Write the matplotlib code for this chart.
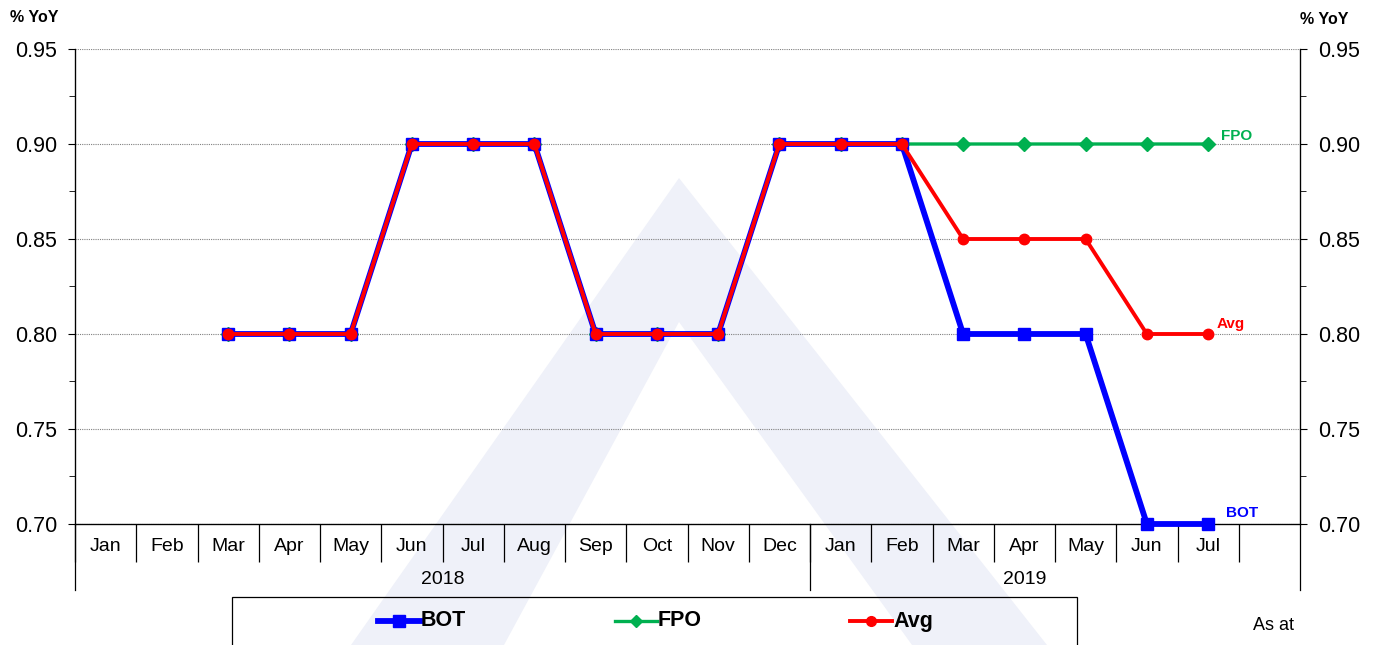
import matplotlib.pyplot as plt
import numpy as np
from matplotlib.lines import Line2D
from matplotlib.patches import Polygon, Rectangle

plt.rcParams['font.family'] = ['Liberation Sans', 'DejaVu Sans']

# data
months = ["Jan", "Feb", "Mar", "Apr", "May", "Jun", "Jul", "Aug", "Sep", "Oct", "Nov", "Dec",
          "Jan", "Feb", "Mar", "Apr", "May", "Jun", "Jul", ""]
years = ["2018", "2019"]
year_start = [0, 12]
year_end = [12, 19]
nan = np.nan
bot = [nan, nan, 0.80, 0.80, 0.80, 0.90, 0.90, 0.90, 0.80, 0.80, 0.80, 0.90,
       0.90, 0.90, 0.80, 0.80, 0.80, 0.70, 0.70, nan]
fpo = [nan, nan, 0.80, 0.80, 0.80, 0.90, 0.90, 0.90, 0.80, 0.80, 0.80, 0.90,
       0.90, 0.90, 0.90, 0.90, 0.90, 0.90, 0.90, nan]
avg = [nan, nan, 0.80, 0.80, 0.80, 0.90, 0.90, 0.90, 0.80, 0.80, 0.80, 0.90,
       0.90, 0.90, 0.85, 0.85, 0.85, 0.80, 0.80, nan]

W, H = 1380, 645
fig = plt.figure(figsize=(W / 100, H / 100), dpi=100)


def fx(px):
    return px / W


def fy(py):
    return 1 - py / H


# watermark chevron on a background axes
bg = fig.add_axes([0, 0, 1, 1], zorder=-1)
bg.axis("off")
bg.set_xlim(0, 1)
bg.set_ylim(0, 1)
wm = [(679, 178), (1047, 645), (912, 645), (679, 322), (504, 645), (351, 645)]
bg.add_patch(Polygon([(fx(a), fy(b)) for a, b in wm], closed=True,
                     facecolor="#eff1f9", edgecolor="none"))

ax = fig.add_axes([fx(75), fy(524), fx(1300) - fx(75), fy(49) - fy(524)])
ax.set_facecolor("none")
x = np.arange(len(months)) + 0.5

ax.plot(x, fpo, color="#00b050", lw=2.4, marker="D", ms=7, zorder=3, clip_on=False)
ax.plot(x, bot, color="#0000ff", lw=4.2, marker="s", ms=9, zorder=4, clip_on=False)
ax.plot(x, avg, color="#ff0000", lw=2.8, marker="o", ms=7.5, zorder=5, clip_on=False)

ax.set_xlim(0, len(months))
ax.set_ylim(0.70, 0.95)
ax.set_yticks(np.arange(0.70, 0.951, 0.05))
ax.set_yticks(np.arange(0.725, 0.95, 0.05), minor=True)
ax.yaxis.set_major_formatter(plt.FormatStrFormatter("%.2f"))
ax.grid(axis="y", color="#808080", lw=0.8, linestyle=(0, (1, 1)))
ax.set_axisbelow(True)

ax.set_xticks(x)
ax.set_xticklabels(months, fontsize=14)
ax.set_xticks(np.arange(0, len(months)), minor=True)
ax.tick_params(axis="x", which="major", length=0, pad=10)
ax.tick_params(axis="x", which="minor", length=27, width=0.9, direction="out")
ax.tick_params(axis="y", which="major", length=5, labelsize=15.5, pad=8)
ax.tick_params(axis="y", which="minor", length=4)

ax.spines["top"].set_visible(False)
for s in ["left", "right", "bottom"]:
    ax.spines[s].set_linewidth(0.9)

ax2 = ax.twinx()
ax2.set_ylim(ax.get_ylim())
ax2.set_yticks(ax.get_yticks())
ax2.set_yticks(np.arange(0.725, 0.95, 0.05), minor=True)
ax2.yaxis.set_major_formatter(plt.FormatStrFormatter("%.2f"))
ax2.tick_params(axis="y", which="major", length=5, labelsize=15.5, pad=8)
ax2.tick_params(axis="y", which="minor", length=4)
ax2.spines["top"].set_visible(False)
ax2.set_zorder(ax.get_zorder() - 0.5)

# year separators and labels
drop = -(590 - 524) / (524 - 49)
for xs in [0, 12, len(months)]:
    ax.plot([xs, xs], [0, drop], color="black", lw=0.9, transform=ax.get_xaxis_transform(),
            clip_on=False)
for yr, a, b in zip(years, year_start, year_end):
    ax.text((a + b) / 2, -(579 - 524) / (524 - 49), yr, ha="center", va="center",
            fontsize=14, transform=ax.get_xaxis_transform())

# series end labels
ax.annotate("FPO", (x[18], fpo[18]), xytext=(9, 6), textcoords="offset points",
            color="#00b050", fontsize=11, fontweight="bold", va="center")
ax.annotate("Avg", (x[18], avg[18]), xytext=(6, 7), textcoords="offset points",
            color="#ff0000", fontsize=11, fontweight="bold", va="center")
ax.annotate("BOT", (x[18], bot[18]), xytext=(13, 8), textcoords="offset points",
            color="#0000ff", fontsize=11, fontweight="bold", va="center")

fig.text(fx(10), fy(17), "% YoY", fontsize=11.5, fontweight="bold", va="center")
fig.text(fx(1300), fy(19), "% YoY", fontsize=11.5, fontweight="bold", va="center")

# legend box (no fill, watermark shows through)
fig.patches.append(Rectangle((fx(232), fy(660)), fx(1077) - fx(232), fy(597) - fy(660),
                             transform=fig.transFigure, facecolor="none",
                             edgecolor="black", lw=0.9, zorder=1))
entries = [("BOT", "#0000ff", "s", 4.2, 8, 378),
           ("FPO", "#00b050", "D", 2.4, 6, 615),
           ("Avg", "#ff0000", "o", 2.8, 7, 850)]
for lab, col, mk, lw, ms, x0 in entries:
    fig.add_artist(Line2D([fx(x0), fx(x0 + 42)], [fy(621), fy(621)], color=col, lw=lw,
                          transform=fig.transFigure, zorder=2))
    fig.add_artist(Line2D([fx(x0 + 21)], [fy(621)], color=col, marker=mk, ms=ms,
                          transform=fig.transFigure, zorder=2))
    fig.text(fx(x0 + 43), fy(621), lab, fontsize=15.5, fontweight="bold", va="center",
             zorder=3)

fig.text(fx(1253), fy(626), "As at", fontsize=13, va="center")

fig.savefig("out.png", dpi=100)
